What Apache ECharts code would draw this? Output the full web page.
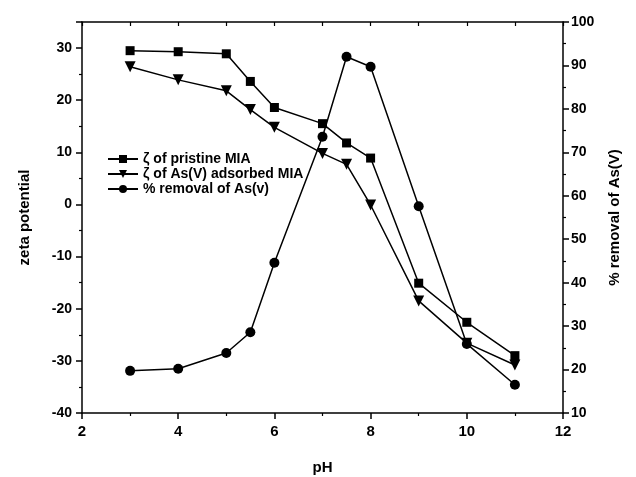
<!DOCTYPE html>
<html>
<head>
<meta charset="utf-8">
<script src="https://cdn.jsdelivr.net/npm/echarts@6/dist/echarts.min.js"></script>
<style>
  html, body { margin: 0; padding: 0; background: #fff; }
  #chart { width: 636px; height: 477px; }
</style>
</head>
<body>
<div id="chart"></div>
<script>
var pH = [3, 4, 5, 5.5, 6, 7, 7.5, 8, 9, 10, 11];
var pristineZeta = [29.5, 29.3, 28.9, 23.6, 18.6, 15.5, 11.8, 8.9, -15.1, -22.6, -29.0];
var adsorbedZeta = [26.4, 23.9, 21.8, 18.2, 14.8, 9.8, 7.7, -0.1, -18.5, -26.6, -30.8];
var removalAs = [19.7, 20.2, 23.8, 28.6, 44.6, 73.6, 92.0, 89.7, 57.6, 25.9, 16.5];

function pairs(xs, ys) {
    var out = [];
    for (var i = 0; i < xs.length; i++) {
        out.push([xs[i], ys[i]]);
    }
    return out;
}

var font = '"Liberation Sans", Arial, sans-serif';
var axisLineStyle = { color: '#000', width: 1.5 };

var chart = echarts.init(document.getElementById('chart'));
var option = {
    animation: false,
    backgroundColor: '#fff',
    textStyle: { fontFamily: font },
    grid: { left: 82, right: 73, top: 22, bottom: 64, outerBoundsMode: 'none', containLabel: false },
    legend: {
        left: 102,
        top: 147,
        orient: 'vertical',
        itemWidth: 30,
        itemHeight: 10,
        itemGap: 1,
        textStyle: { fontFamily: font, fontWeight: 'bold', fontSize: 14, color: '#000' },
        data: ['ζ of pristine MIA', 'ζ of As(V) adsorbed MIA', '% removal of As(v)']
    },
    xAxis: [{
        type: 'value',
        min: 2, max: 12, interval: 2,
        name: 'pH',
        nameLocation: 'middle',
        nameGap: 47,
        nameTextStyle: { fontFamily: font, fontWeight: 'bold', fontSize: 15, color: '#000' },
        axisLine: { onZero: false, lineStyle: axisLineStyle },
        axisTick: { inside: false, length: 6, lineStyle: axisLineStyle },
        minorTick: { show: true, splitNumber: 2, length: 3, lineStyle: { color: '#000', width: 1.2 } },
        splitLine: { show: false },
        axisLabel: { fontFamily: font, fontWeight: 'bold', fontSize: 15, color: '#000', margin: 11 }
    }, {
        type: 'value',
        position: 'top',
        min: 2, max: 12, interval: 1,
        axisLine: { show: true, onZero: false, lineStyle: axisLineStyle },
        axisTick: { show: true, inside: true, length: 4, lineStyle: { color: '#000', width: 1.2 } },
        axisLabel: { show: false },
        splitLine: { show: false }
    }],
    yAxis: [{
        type: 'value',
        min: -40, max: 35, interval: 10,
        name: 'zeta potential',
        nameLocation: 'middle',
        nameRotate: 90,
        nameGap: 50,
        nameTextStyle: { fontFamily: font, fontWeight: 'bold', fontSize: 15, color: '#000' },
        axisLine: { show: true, onZero: false, lineStyle: axisLineStyle },
        axisTick: { inside: false, length: 6, lineStyle: axisLineStyle },
        minorTick: { show: true, splitNumber: 2, length: 3, lineStyle: { color: '#000', width: 1.2 } },
        splitLine: { show: false },
        axisLabel: {
            fontFamily: font, fontWeight: 'bold', fontSize: 14, color: '#000', margin: 10,
            formatter: function (v) { return v % 10 === 0 ? v : ''; }
        }
    }, {
        type: 'value',
        min: 10, max: 100, interval: 10,
        position: 'right',
        name: '% removal of As(V)',
        nameLocation: 'middle',
        nameRotate: 90,
        nameGap: 44,
        nameTextStyle: { fontFamily: font, fontWeight: 'bold', fontSize: 15, color: '#000' },
        axisLine: { show: true, onZero: false, lineStyle: axisLineStyle },
        axisTick: { inside: false, length: 6, lineStyle: axisLineStyle },
        minorTick: { show: true, splitNumber: 2, length: 3, lineStyle: { color: '#000', width: 1.2 } },
        splitLine: { show: false },
        axisLabel: { fontFamily: font, fontWeight: 'bold', fontSize: 14, color: '#000', margin: 8 }
    }],
    series: [{
        name: 'ζ of pristine MIA',
        type: 'line',
        yAxisIndex: 0,
        data: pairs(pH, pristineZeta),
        symbol: 'rect',
        symbolSize: 9,
        lineStyle: { color: '#000', width: 1.5 },
        itemStyle: { color: '#000' }
    }, {
        name: 'ζ of As(V) adsorbed MIA',
        type: 'line',
        yAxisIndex: 0,
        data: pairs(pH, adsorbedZeta),
        symbol: 'triangle',
        symbolRotate: 180,
        symbolSize: 11,
        lineStyle: { color: '#000', width: 1.5 },
        itemStyle: { color: '#000' }
    }, {
        name: '% removal of As(v)',
        type: 'line',
        yAxisIndex: 1,
        data: pairs(pH, removalAs),
        symbol: 'circle',
        symbolSize: 10,
        lineStyle: { color: '#000', width: 1.5 },
        itemStyle: { color: '#000' }
    }]
};
chart.setOption(option);
</script>
</body>
</html>
